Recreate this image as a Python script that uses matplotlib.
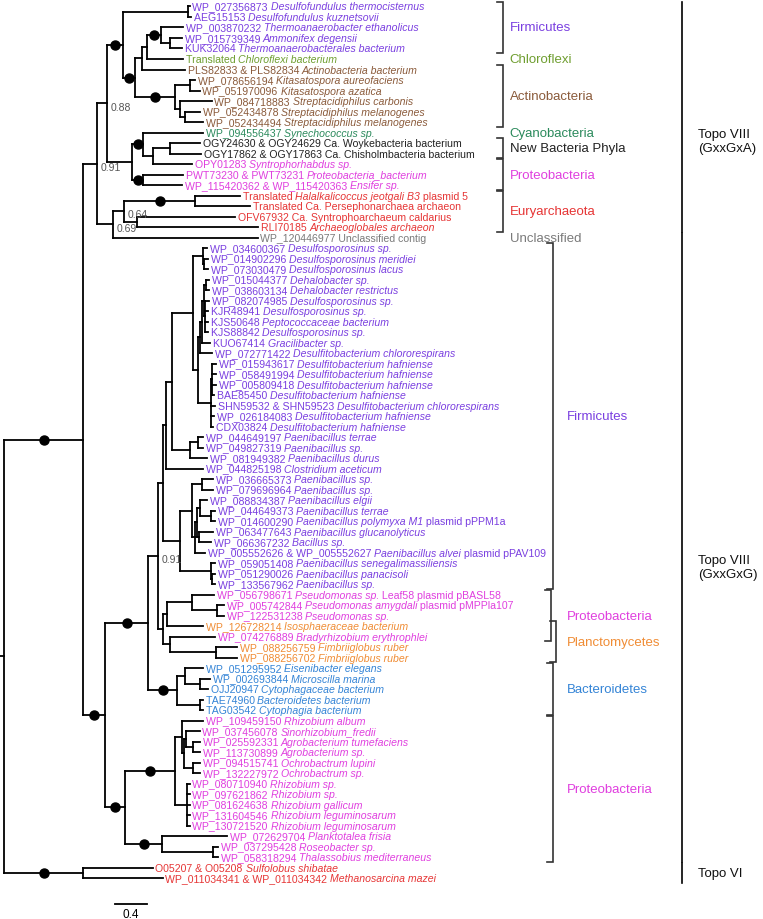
import matplotlib
matplotlib.use("Agg")
import matplotlib.pyplot as plt
from matplotlib.collections import LineCollection

plt.rcParams['font.family'] = ['Liberation Sans', 'DejaVu Sans']

# tree pieces in newick (branch lengths in substitutions/site). leaves are numbered 1..84,
# internal label "1" = full support (black dot), other numbers = posterior shown as text
firmi_a = "((1:0.025,2:0.038):0.813,((((3:0.275,(4:0.15,5:0.15):0.113)1:0.175,6:0.45):0.063,7:0.538):0.088,"
actino = "((8:0.063,9:0.125):0.188,(10:0.4,(11:0.188,12:0.225):0.063):0.063)1:0.5)1:0.15)1"
syn_pro = "((13:0.75,((14:0.375,15:0.388):0.213,16:0.488):0.125)1:0.138,(17:0.5,18:0.488)1:0.138)"
archaea = "(((19:0.563,20:0.688)1:0.888,(21:1.225,22:1.513):0.163)0.64:0.138,23:1.813)0.69"
topo_a = "((" + firmi_a + actino + ":0.2," + syn_pro + ":0.313)0.88:0.125," + archaea + ":0.2)0.91"

desulfo = ("((24:0.05,(25:0.05,26:0.05):0.013):0.125,"
           "(((((27:0.038,28:0.038):0.025,(29:0.05,30:0.038,31:0.038,32:0.038):0.013):0.025,33:0.1):0.025,"
           "34:0.15):0.025,"
           "((35:0.05,36:0.05,37:0.05,38:0.025):0.013,39:0.05,40:0.038,41:0.025):0.163):0.063)")
paeni_a = "((42:0.063,43:0.063):0.1,44:0.213)"
firmi_b = "((" + desulfo + ":0.263," + paeni_a + ":0.225):0.075,45:0.463)"
paeni_b = ("(((46:0.138,47:0.138):0.125,(((48:0.088,(49:0.05,50:0.05):0.138):0.038,"
           "(51:0.175,52:0.15):0.025):0.025,53:0.125):0.038):0.15,"
           "(54:0.05,(55:0.038,56:0.038):0.013):0.388)")
pro_pla = ("(((57:0.275,(58:0.088,59:0.088):0.313):0.313,60:0.45):0.05,"
           "(61:0.563,(62:0.263,63:0.263):0.575):0.088)")
bactero = "((64:0.225,(65:0.125,66:0.1):0.188):0.1,(67:0.038,68:0.038):0.288)1"
rhizo = ("((69:0.263,((70:0.175,(71:0.088,72:0.088):0.088):0.025,(73:0.088,74:0.088):0.113):0.025):0.088,"
         "(75:0.038,76:0.038,77:0.038,78:0.038,79:0.038):0.15)1")
rhodo = "(80:0.813,(81:0.063,82:0.063):0.638)1"
topo_b = ("((((" + firmi_b + ":0.038," + paeni_b + ":0.213):0.063," + pro_pla + ":0.063)0.91:0.125,"
          + bactero + ":0.363)1:0.538,(" + rhizo + ":0.625," + rhodo + ":0.463)1:0.25)1")
topo_vi = "(83:0.875,84:1.0)1"
newick = "((" + topo_a + ":0.175," + topo_b + ":0.275)1:0.988," + topo_vi + ":0.988);"

leaf_labels = [
    "WP_027356873 *Desulfofundulus thermocisternus*",
    "AEG15153 *Desulfofundulus kuznetsovii*",
    "WP_003870232 *Thermoanaerobacter ethanolicus*",
    "WP_015739349 *Ammonifex degensii*",
    "KUK32064 *Thermoanaerobacterales bacterium*",
    "Translated *Chloroflexi bacterium*",
    "PLS82833 & PLS82834 *Actinobacteria bacterium*",
    "WP_078656194 *Kitasatospora aureofaciens*",
    "WP_051970096 *Kitasatospora azatica*",
    "WP_084718883 *Streptacidiphilus carbonis*",
    "WP_052434878 *Streptacidiphilus melanogenes*",
    "WP_052434494 *Streptacidiphilus melanogenes*",
    "WP_094556437 *Synechococcus sp.*",
    "OGY24630 & OGY24629 Ca. Woykebacteria bacterium",
    "OGY17862 & OGY17863 Ca. Chisholmbacteria bacterium",
    "OPY01283 *Syntrophorhabdus sp.*",
    "PWT73230 & PWT73231 *Proteobacteria_bacterium*",
    "WP_115420362 & WP_115420363 *Ensifer sp.*",
    "Translated *Halalkalicoccus jeotgali B3* plasmid 5",
    "Translated Ca. Persephonarchaea archaeon",
    "OFV67932 Ca. Syntrophoarchaeum caldarius",
    "RLI70185 *Archaeoglobales archaeon*",
    "WP_120446977 Unclassified contig",
    "WP_034600367 *Desulfosporosinus sp.*",
    "WP_014902296 *Desulfosporosinus meridiei*",
    "WP_073030479 *Desulfosporosinus lacus*",
    "WP_015044377 *Dehalobacter sp.*",
    "WP_038603134 *Dehalobacter restrictus*",
    "WP_082074985 *Desulfosporosinus sp.*",
    "KJR48941 *Desulfosporosinus sp.*",
    "KJS50648 *Peptococcaceae bacterium*",
    "KJS88842 *Desulfosporosinus sp.*",
    "KUO67414 *Gracilibacter sp.*",
    "WP_072771422 *Desulfitobacterium chlororespirans*",
    "WP_015943617 *Desulfitobacterium hafniense*",
    "WP_058491994 *Desulfitobacterium hafniense*",
    "WP_005809418 *Desulfitobacterium hafniense*",
    "BAE85450 *Desulfitobacterium hafniense*",
    "SHN59532 & SHN59523 *Desulfitobacterium chlororespirans*",
    "WP_026184083 *Desulfitobacterium hafniense*",
    "CDX03824 *Desulfitobacterium hafniense*",
    "WP_044649197 *Paenibacillus terrae*",
    "WP_049827319 *Paenibacillus sp.*",
    "WP_081949382 *Paenibacillus durus*",
    "WP_044825198 *Clostridium aceticum*",
    "WP_036665373 *Paenibacillus sp.*",
    "WP_079696964 *Paenibacillus sp.*",
    "WP_088834387 *Paenibacillus elgii*",
    "WP_044649373 *Paenibacillus terrae*",
    "WP_014600290 *Paenibacillus polymyxa M1* plasmid pPPM1a",
    "WP_063477643 *Paenibacillus glucanolyticus*",
    "WP_066367232 *Bacillus sp.*",
    "WP_005552626 & WP_005552627 *Paenibacillus alvei* plasmid pPAV109",
    "WP_059051408 *Paenibacillus senegalimassiliensis*",
    "WP_051290026 *Paenibacillus panacisoli*",
    "WP_133567962 *Paenibacillus sp.*",
    "WP_056798671 *Pseudomonas sp.* Leaf58 plasmid pBASL58",
    "WP_005742844 *Pseudomonas amygdali* plasmid pMPPla107",
    "WP_122531238 *Pseudomonas sp.*",
    "WP_126728214 *Isosphaeraceae bacterium*",
    "WP_074276889 *Bradyrhizobium erythrophlei*",
    "WP_088256759 *Fimbriiglobus ruber*",
    "WP_088256702 *Fimbriiglobus ruber*",
    "WP_051295952 *Eisenibacter elegans*",
    "WP_002693844 *Microscilla marina*",
    "OJJ20947 *Cytophagaceae bacterium*",
    "TAE74960 *Bacteroidetes bacterium*",
    "TAG03542 *Cytophagia bacterium*",
    "WP_109459150 *Rhizobium album*",
    "WP_037456078 *Sinorhizobium_fredii*",
    "WP_025592331 *Agrobacterium tumefaciens*",
    "WP_113730899 *Agrobacterium sp.*",
    "WP_094515741 *Ochrobactrum lupini*",
    "WP_132227972 *Ochrobactrum sp.*",
    "WP_080710940 *Rhizobium sp.*",
    "WP_097621862 *Rhizobium sp.*",
    "WP_081624638 *Rhizobium gallicum*",
    "WP_131604546 *Rhizobium leguminosarum*",
    "WP_130721520 *Rhizobium leguminosarum*",
    "WP_072629704 *Planktotalea frisia*",
    "WP_037295428 *Roseobacter sp.*",
    "WP_058318294 *Thalassobius mediterraneus*",
    "O05207 & O05208 *Sulfolobus shibatae*",
    "WP_011034341 & WP_011034342 *Methanosarcina mazei*",
]

# phylum of every leaf, in leaf order
leaf_phylum = (["Fir"] * 5 + ["Chl"] + ["Act"] * 6 + ["Cya"] + ["New"] * 2 + ["Pro"] * 3
               + ["Eur"] * 4 + ["Unc"] + ["Fir"] * 33 + ["Pro"] * 3 + ["Pla"] + ["Pro"]
               + ["Pla"] * 2 + ["Bac"] * 5 + ["Pro"] * 14 + ["Eur"] * 2)

phylum_colors = {
    "Fir": "#7a3fe0", "Chl": "#6f9e30", "Act": "#8a5a3a", "Cya": "#2b8a5c",
    "New": "#222222", "Pro": "#e03fdf", "Eur": "#e63535", "Unc": "#7a7a7a",
    "Pla": "#f08c34", "Bac": "#3484d6",
}

# bracket groups on the right (first / last leaf number)
group_names = ["Firmicutes", "Chloroflexi", "Actinobacteria", "Cyanobacteria",
               "New Bacteria Phyla", "Proteobacteria", "Euryarchaeota", "Unclassified",
               "Firmicutes", "Proteobacteria", "Planctomycetes", "Bacteroidetes",
               "Proteobacteria"]
group_phylum = ["Fir", "Chl", "Act", "Cya", "New", "Pro", "Eur", "Unc",
                "Fir", "Pro", "Pla", "Bac", "Pro"]
group_first = [1, 6, 7, 13, 14, 16, 19, 23, 24, 57, 60, 64, 69]
group_last = [5, 6, 12, 13, 15, 18, 22, 23, 56, 61, 63, 68, 82]

topo_names = ["Topo VIII\n(GxxGxA)", "Topo VIII\n(GxxGxG)", "Topo VI"]
topo_first = [1, 23, 83]
topo_last = [22, 82, 84]

scale_length = 0.4


def parse_newick(s):
    s = s.replace(" ", "")
    pos = 0

    def node():
        nonlocal pos
        children = []
        if s[pos] == "(":
            pos += 1
            while True:
                children.append(node())
                if s[pos] == ",":
                    pos += 1
                else:
                    break
            pos += 1
        start = pos
        while s[pos] not in ":,);":
            pos += 1
        name = s[start:pos]
        length = 0.0
        if s[pos] == ":":
            pos += 1
            start = pos
            while s[pos] not in ",);":
                pos += 1
            length = float(s[start:pos])
        return {"name": name, "len": length, "children": children}

    return node()


tree = parse_newick(newick)
counter = [0]


def layout(n, x0):
    n["x"] = x0 + n["len"]
    if not n["children"]:
        n["y"] = counter[0]
        counter[0] += 1
    else:
        for c in n["children"]:
            layout(c, n["x"])
        n["y"] = (n["children"][0]["y"] + n["children"][-1]["y"]) / 2


layout(tree, 0.0)

fig = plt.figure(figsize=(7.63, 9.2), dpi=100)
ax = fig.add_axes([0, 0, 1, 1])
ax.set_xlim(-0.05, 9.4875)
ax.set_ylim(86.9, -0.714)
ax.axis("off")

segs = []
dots_x, dots_y = [], []
supports = []
leaves = []


def walk(n):
    if not n["children"]:
        leaves.append(n)
        return
    ys = [c["y"] for c in n["children"]]
    segs.append([(n["x"], min(ys)), (n["x"], max(ys))])
    for c in n["children"]:
        segs.append([(n["x"], c["y"]), (c["x"], c["y"])])
        if c["children"] and c["name"] == "1":
            dots_x.append((n["x"] + c["x"]) / 2)
            dots_y.append(c["y"])
        elif c["children"] and c["name"]:
            supports.append((c["x"], c["y"], c["name"]))
        walk(c)


walk(tree)
segs.append([(-0.05, tree["y"]), (0, tree["y"])])
ax.add_collection(LineCollection(segs, colors="black", linewidths=1.3, capstyle="projecting"))
ax.plot(dots_x, dots_y, "o", color="black", markersize=6.5, zorder=3)

for sx, sy, txt in supports:
    ax.text(sx + 0.05, sy + 0.3, txt, fontsize=7.5, color="#555555", va="center", ha="left")

fs = 7.6
for n in leaves:
    idx = int(n["name"]) - 1
    color = phylum_colors[leaf_phylum[idx]]
    parts = leaf_labels[idx].split("*")
    prev = None
    for k, part in enumerate(parts):
        if not part:
            continue
        style = "italic" if k % 2 else "normal"
        if prev is None:
            prev = ax.text(n["x"] + 0.03, n["y"], part, fontsize=fs, color=color,
                           style=style, va="center", ha="left")
        else:
            prev = ax.annotate(part, xy=(1, 0), xycoords=prev, fontsize=fs, color=color,
                               style=style, va="bottom", ha="left")

# phylum brackets
trans = ax.get_yaxis_transform()
for i, name in enumerate(group_names):
    top_part = group_first[i] < 24
    bx = 0.659 if top_part else 0.725
    if name == "Planctomycetes":
        bx = 0.729
    elif group_first[i] == 57:
        bx = 0.722
    lx = 0.668 if top_part else 0.743
    y0, y1 = group_first[i] - 1, group_last[i] - 1
    if y1 > y0:
        ax.plot([bx - 0.008, bx, bx, bx - 0.008], [y0 - 0.45, y0 - 0.45, y1 + 0.45, y1 + 0.45],
                color="#333333", lw=1.2, transform=trans, solid_joinstyle="miter")
    ly = (y0 + y1) / 2
    ax.text(lx, ly, name, fontsize=9.5, color=phylum_colors[group_phylum[i]],
            transform=trans, va="center", ha="left")

topo_label_rows = [12.8, 53.4, 82.5]
for i, name in enumerate(topo_names):
    y0, y1 = topo_first[i] - 1, topo_last[i] - 1
    ax.plot([0.894, 0.894], [y0 - 0.45, y1 + 0.45], color="black", lw=1.2, transform=trans)
    ax.text(0.915, topo_label_rows[i], name, fontsize=9.5, color="#111111",
            transform=trans, va="center", ha="left", linespacing=1.25)

# scale bar
ax.plot([1.39, 1.39 + scale_length], [85.5, 85.5], color="black", lw=1.3)
ax.text(1.39 + scale_length / 2, 86.4, str(scale_length), fontsize=8.5, ha="center", va="center")

fig.savefig("out.png", dpi=100)
